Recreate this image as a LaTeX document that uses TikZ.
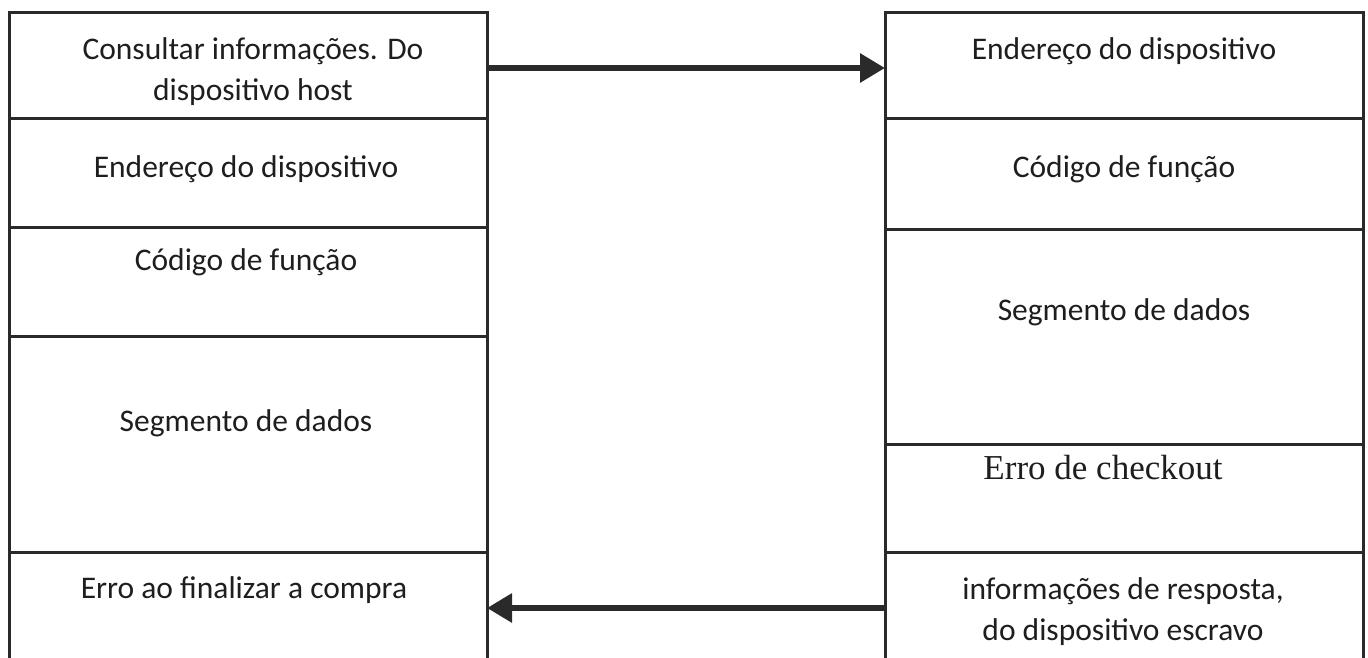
\documentclass[tikz,border=0pt]{standalone}
\usepackage{fontspec}
\setmainfont{Carlito}
\newfontfamily\timesfam{Liberation Serif}
\usetikzlibrary{arrows.meta}
\definecolor{ink}{HTML}{1E1E1E}
\definecolor{rule}{HTML}{2A2A2A}
\tikzset{
  cell/.style={draw=rule, line width=3pt, rectangle, inner sep=0pt, outer sep=0pt,
               minimum width=478pt},
  lbl/.style={text=ink, anchor=base, align=center, inner sep=0pt,
              font=\fontsize{31.5}{41}\selectfont},
  flow/.style={draw=rule, line width=6pt,
               -{Triangle[length=25pt,width=28pt]}}
}
\begin{document}
\begin{tikzpicture}[x=1pt,y=-1pt]
\useasboundingbox (0,0) rectangle (1368,658);
% host request frame (left column)
\node[cell, minimum height=106pt] (l1) at (248,66)    {};
\node[cell, minimum height=108pt] (l2) at (248,173)   {};
\node[cell, minimum height=109pt] (l3) at (248,281.5) {};
\node[cell, minimum height=216pt] (l4) at (248,444)   {};
\node[cell, minimum height=110pt] (l5) at (248,607)   {};
% slave response frame (right column)
\node[cell, minimum height=106pt] (r1) at (1124,66)    {};
\node[cell, minimum height=110pt] (r2) at (1124,174)   {};
\node[cell, minimum height=215pt] (r3) at (1124,336.5) {};
\node[cell, minimum height=108pt] (r4) at (1124,498)   {};
\node[cell, minimum height=110pt] (r5) at (1124,607)   {};
% field labels (two-line labels sit on the baseline of their last line)
\node[lbl] (l1t) at (253,101) {Consultar informações. Do\\dispositivo host};
\node[lbl] (l2t) at (246,177) {Endereço do dispositivo};
\node[lbl] (l3t) at (246,270) {Código de função};
\node[lbl] (l4t) at (246,431) {Segmento de dados};
\node[lbl] (l5t) at (244,598) {Erro ao finalizar a compra};
\node[lbl] (r1t) at (1124,60)  {Endereço do dispositivo};
\node[lbl] (r2t) at (1124,177) {Código de função};
\node[lbl] (r3t) at (1124,320) {Segmento de dados};
\node[lbl, font=\timesfam\fontsize{35}{42}\selectfont] (r4t) at (1103,479) {Erro de checkout};
\node[lbl] (r5t) at (1123,640) {informações de resposta,\\do dispositivo escravo};
% request and response arrows
\coordinate (qa) at (l1.east |- 0,68);
\coordinate (qb) at (r1.west |- 0,68);
\coordinate (pa) at (r5.west |- 0,608);
\coordinate (pb) at (l5.east |- 0,608);
\draw[flow] (qa) -- (qb);
\draw[flow] (pa) -- (pb);
\end{tikzpicture}
\end{document}
